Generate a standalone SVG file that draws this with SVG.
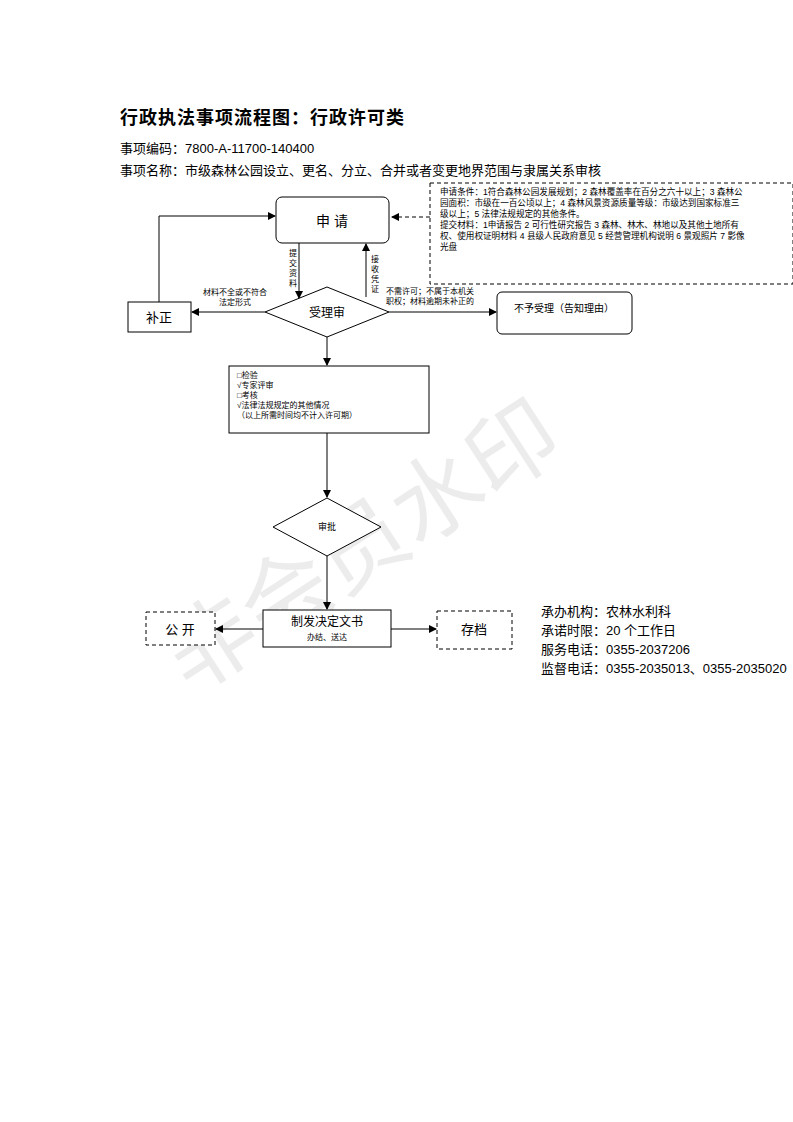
<svg xmlns="http://www.w3.org/2000/svg" width="793" height="1122" viewBox="0 0 793 1122">
<style>
text{font-family:"Liberation Sans","Noto Sans CJK SC",sans-serif;fill:#000}
.s{font-size:8px}
.t{font-size:8.6px}
.b{fill:#fff;stroke:#000;stroke-width:1}
.d{fill:#fff;stroke:#000;stroke-width:1;stroke-dasharray:4,3}
.l{stroke:#000;stroke-width:1;fill:none}
</style>
<defs><marker id="a" markerWidth="8" markerHeight="8" refX="7" refY="4" orient="auto" markerUnits="userSpaceOnUse"><path d="M0,0L8,4L0,8z" fill="#000"/></marker></defs>
<rect width="793" height="1122" fill="#fff"/>
<text x="120" y="124" font-size="18" font-weight="bold" letter-spacing="1">行政执法事项流程图：行政许可类</text>
<text x="120" y="153" font-size="13">事项编码：7800-A-11700-140400</text>
<text x="120" y="175" font-size="13">事项名称：市级森林公园设立、更名、分立、合并或者变更地界范围与隶属关系审核</text>
<text x="190" y="695" font-size="90" fill="#000" opacity="0.07" transform="rotate(-33 190 695)">非会员水印</text>
<g id="connectors">
<path class="l" d="M430,217H392" stroke-dasharray="4,3" marker-end="url(#a)"/>
<path class="l" d="M299,243V298" marker-end="url(#a)"/>
<path class="l" d="M366,297V244" marker-end="url(#a)"/>
<path class="l" d="M265,312H192" marker-end="url(#a)"/>
<path class="l" d="M159,302V216H275" marker-end="url(#a)"/>
<path class="l" d="M389,312H496" marker-end="url(#a)"/>
<path class="l" d="M327,337V365" marker-end="url(#a)"/>
<path class="l" d="M327,433V497" marker-end="url(#a)"/>
<path class="l" d="M327,556V609" marker-end="url(#a)"/>
<path class="l" d="M263,629H216" marker-end="url(#a)"/>
<path class="l" d="M391,629H436" marker-end="url(#a)"/>
<text class="s" text-anchor="middle"><tspan x="293" y="256">提</tspan><tspan x="293" y="266">交</tspan><tspan x="293" y="276">资</tspan><tspan x="293" y="286">料</tspan></text>
<text class="s" text-anchor="middle"><tspan x="375" y="262">接</tspan><tspan x="375" y="272">收</tspan><tspan x="375" y="282">凭</tspan><tspan x="375" y="292">证</tspan></text>
<text class="s" x="235" y="295" text-anchor="middle">材料不全或不符合</text>
<text class="s" x="235" y="305" text-anchor="middle">法定形式</text>
<text class="s" x="386" y="294">不需许可；不属于本机关</text>
<text class="s" x="386" y="304">职权；材料逾期未补正的</text>
</g>
<g id="cond"><rect class="d" x="430" y="183" width="363" height="101"/>
<text class="t" x="440" y="195">申请条件：1符合森林公园发展规划；2 森林覆盖率在百分之六十以上；3 森林公</text>
<text class="t" x="440" y="206">园面积：市级在一百公顷以上；4 森林风景资源质量等级：市级达到国家标准三</text>
<text class="t" x="440" y="217">级以上；5 法律法规规定的其他条件。</text>
<text class="t" x="440" y="228">提交材料：1申请报告 2 可行性研究报告 3 森林、林木、林地以及其他土地所有</text>
<text class="t" x="440" y="239">权、使用权证明材料 4 县级人民政府意见 5 经营管理机构说明 6 景观照片 7 影像</text>
<text class="t" x="440" y="250">光盘</text></g>
<g id="apply"><rect class="b" x="276" y="197" width="113" height="46" rx="6"/><text x="332" y="226" font-size="14" text-anchor="middle">申 请</text></g>
<g id="accept"><polygon class="b" points="265,312 327,287 389,312 327,337"/><text x="327" y="317" font-size="12" text-anchor="middle">受理审</text></g>
<g id="fix"><rect class="b" x="128" y="302" width="63" height="30"/><text x="159" y="322" font-size="13" text-anchor="middle">补正</text></g>
<g id="reject"><rect class="b" x="497" y="292" width="135" height="42" rx="5"/><text x="564" y="312" font-size="10" text-anchor="middle">不予受理（告知理由）</text></g>
<g id="review"><rect class="b" x="229" y="366" width="200" height="67"/>
<text class="s" x="237" y="378">□检验</text>
<text class="s" x="237" y="388">√专家评审</text>
<text class="s" x="237" y="398">□考核</text>
<text class="s" x="237" y="408">√法律法规规定的其他情况</text>
<text class="s" x="237" y="418">（以上所需时间均不计入许可期）</text></g>
<g id="approve"><polygon class="b" points="273,527 327,498 381,527 327,556"/><text x="327" y="530" font-size="9" text-anchor="middle">审批</text></g>
<g id="issue"><rect class="b" x="263" y="610" width="128" height="37"/><text x="327" y="626" font-size="12" text-anchor="middle">制发决定文书</text><text x="327" y="640" font-size="8" text-anchor="middle">办结、送达</text></g>
<g id="public"><rect class="d" x="146" y="612" width="69" height="33"/><text x="180" y="634" font-size="13" text-anchor="middle">公 开</text></g>
<g id="archive"><rect class="d" x="437" y="611" width="75" height="38"/><text x="474" y="634" font-size="13" text-anchor="middle">存档</text></g>
<g id="info">
<text x="541" y="616" font-size="13">承办机构：农林水利科</text>
<text x="541" y="635" font-size="13">承诺时限：20 个工作日</text>
<text x="541" y="654" font-size="13">服务电话：0355-2037206</text>
<text x="541" y="673" font-size="13">监督电话：0355-2035013、0355-2035020</text></g>
</svg>
